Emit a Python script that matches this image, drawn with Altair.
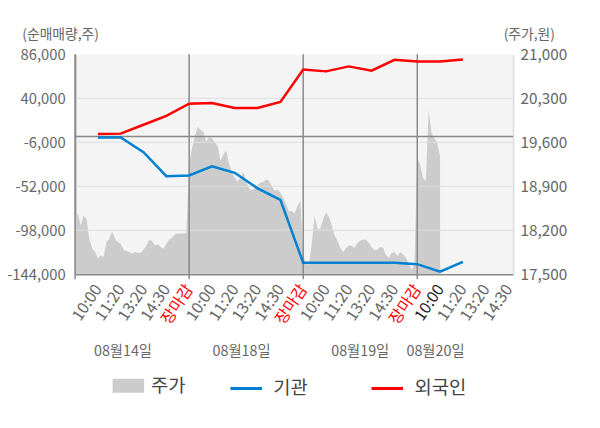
import json
import altair as alt
import pandas as pd

FONT = "Noto Sans CJK KR"

# ---------------- data ----------------
x_labels = ['10:00', '11:20', '13:20', '14:30', '장마감'] * 3 + ['10:00', '11:20', '13:20', '14:30']
dates = ['08월14일', '08월18일', '08월19일', '08월20일']
date_pos = [2.1, 7.3, 12.5, 15.8]
day_bounds = [0, 5, 10, 15]

left_ticks = [86000, 40000, -6000, -52000, -98000, -144000]
right_ticks = [21000, 20300, 19600, 18900, 18200, 17500]

line_x = list(range(1, 18))
inst = [-1100, -1100, -16300, -41500, -40700, -31100, -38000, -54200, -66300,
        -132100, -132100, -132100, -132100, -132100, -133500, -141400, -131100]
foreign = [2700, 3000, 12300, 21600, 34300, 35000, 29900, 29900, 36100,
           69900, 68100, 73300, 68800, 80200, 78500, 78500, 80500]

price_day1 = [18484, 18458, 18274, 18431, 18379, 18064, 17907, 17855, 17750, 17802,
              17776, 18012, 18064, 18185, 18064, 18012, 17986, 17891, 17870, 17855,
              17828, 17855, 17839, 17839, 17891, 17959, 18049, 18028, 17959, 17975,
              17933, 17907, 17986, 18049, 18080, 18132, 18153, 18143, 18153, 18153]
price_day2 = [19244, 19506, 19690, 19847, 19795, 19758, 19611, 19674, 19664, 19601,
              19543, 19307, 19401, 19470, 19255, 19113, 19034, 18971, 19034, 19124,
              18982, 18867, 18835, 18867, 18919, 18956, 18971, 19008, 18982, 18903,
              18825, 18851, 18798, 18709, 18615, 18500, 18510, 18468, 18589, 18667]
price_day3 = [17776, 17697, 17645, 17986, 18431, 18222, 18222, 18379, 18484, 18416,
              18274, 18117, 18038, 17923, 17855, 17917, 17959, 17949, 17923, 17996,
              18038, 18049, 18054, 18001, 17933, 17881, 17891, 17933, 17923, 17802,
              17765, 17839, 17855, 17786, 17849, 17818, 17765, 17661, 17577, 17645]
price_day4 = [19349, 19244, 19034, 18982, 20120, 19742, 19664, 19585, 19375]

# ---------------- tables ----------------
prices = price_day1 + price_day2 + price_day3 + price_day4
price_df = pd.DataFrame({'x': [i * 0.125 for i in range(len(prices))],
                         'price': prices, 'series': '주가'})
lines_df = pd.concat([
    pd.DataFrame({'x': line_x, 'v': inst, 'series': '기관'}),
    pd.DataFrame({'x': line_x, 'v': foreign, 'series': '외국인'}),
])
grid_df = pd.DataFrame({'v': left_ticks[1:-1]})
zero_df = pd.DataFrame({'v': [0]})
sep_df = pd.DataFrame({'x': day_bounds})
date_df = pd.DataFrame({'x': date_pos, 't': dates})

W, H = 444, 223

xscale = alt.Scale(domain=[0, 19.2], nice=False, zero=False)
lscale = alt.Scale(domain=[-144000, 86000], nice=False, zero=False)
rscale = alt.Scale(domain=[17500, 21000], nice=False, zero=False)

label_expr = json.dumps(x_labels, ensure_ascii=False).replace('"', "'") + "[datum.value - 1]"

x_axis = alt.Axis(
    values=list(range(1, len(x_labels) + 1)), labelExpr=label_expr,
    labelAngle=304, labelAlign='right', labelBaseline='middle', labelPadding=12,
    labelFontSize=16, labelFont=FONT, labelOverlap=False,
    labelColor={"condition": [
        {"test": "datum.value == 5 || datum.value == 10 || datum.value == 15", "value": "#ff0000"},
        {"test": "datum.value == 16", "value": "#222222"}], "value": "#666666"},
    ticks=False, grid=False, domainColor='#888888', domainWidth=1.5, title='')

left_axis = alt.Axis(
    orient='left', values=left_ticks,
    labelExpr="(datum.value < 0 ? '-' : '') + format(abs(datum.value), ',d')",
    labelFontSize=15, labelFont=FONT,
    labelColor='#666666', labelPadding=10, ticks=False, grid=False,
    domainColor='#888888', domainWidth=1.5,
    title='(순매매량,주)', titleAngle=0, titleX=-54, titleY=-20, titleAlign='left',
    titleBaseline='middle', titleFontSize=14, titleFontWeight='normal',
    titleColor='#666666', titleFont=FONT)

right_axis = alt.Axis(
    orient='right', values=right_ticks, format=',d', labelFontSize=15.5, labelFont=FONT,
    labelColor='#666666', labelPadding=7, ticks=False, grid=False,
    domainColor='#dddddd', domainWidth=1.5,
    title='(주가,원)', titleAngle=0, titleX=-10, titleY=-20, titleAlign='left',
    titleBaseline='middle', titleFontSize=14, titleFontWeight='normal',
    titleColor='#666666', titleFont=FONT)

area = alt.Chart(price_df).mark_area(clip=True).encode(
    x=alt.X('x:Q', scale=xscale, axis=x_axis),
    y=alt.Y('price:Q', scale=rscale, axis=right_axis),
    y2=alt.datum(17500),
    fill=alt.Fill('series:N', scale=alt.Scale(domain=['주가'], range=['#cccccc']),
                  legend=alt.Legend(orient='none', legendX=38, legendY=320, title=None,
                                    symbolType='M-1,-0.44L1,-0.44L1,0.44L-1,0.44Z',
                                    symbolSize=1024, symbolStrokeWidth=0,
                                    labelFontSize=19, labelFont=FONT, labelColor='#444444',
                                    labelOffset=7)),
)

grid = alt.Chart(grid_df).mark_rule(color='#dcdcdc', strokeWidth=1).encode(
    y=alt.Y('v:Q', scale=lscale, axis=left_axis))
zero = alt.Chart(zero_df).mark_rule(color='#888888', strokeWidth=1.5).encode(
    y=alt.Y('v:Q', scale=lscale, axis=left_axis))
seps = alt.Chart(sep_df).mark_rule(color='#888888', strokeWidth=1.5).encode(
    x=alt.X('x:Q', scale=xscale, axis=x_axis),
    y=alt.value(0), y2=alt.value(H + 5))
lines = alt.Chart(lines_df).mark_line(strokeWidth=2.5).encode(
    x=alt.X('x:Q', scale=xscale, axis=x_axis),
    y=alt.Y('v:Q', scale=lscale, axis=left_axis),
    stroke=alt.Stroke('series:N',
                      scale=alt.Scale(domain=['기관', '외국인'], range=['#0080d0', '#ff0000']),
                      legend=alt.Legend(orient='none', legendX=156, legendY=321, title=None,
                                        direction='horizontal', symbolType='stroke',
                                        symbolSize=1024, symbolStrokeWidth=3,
                                        labelFontSize=19, labelFont=FONT,
                                        labelColor='#444444', labelOffset=10,
                                        columnPadding=58)),
    order=alt.Order('series:N', sort='ascending'),
)
date_text = alt.Chart(date_df).mark_text(fontSize=14.5, font=FONT, color='#666666',
                                         baseline='middle', align='center').encode(
    x=alt.X('x:Q', scale=xscale, axis=x_axis),
    y=alt.value(H + 79), text='t:N')

left_group = alt.layer(grid, zero, seps, lines, date_text)

chart = alt.layer(area, left_group).resolve_scale(
    y='independent', fill='independent', stroke='independent'
).properties(
    width=W, height=H,
    padding={'left': 68, 'top': 44, 'right': 80, 'bottom': 153},
    autosize=alt.AutoSizeParams(type='none'),
    background='white',
).configure_view(fill='#f4f4f4', stroke='transparent')

chart.save("out.html", embed_options={"renderer": "svg", "actions": False})
